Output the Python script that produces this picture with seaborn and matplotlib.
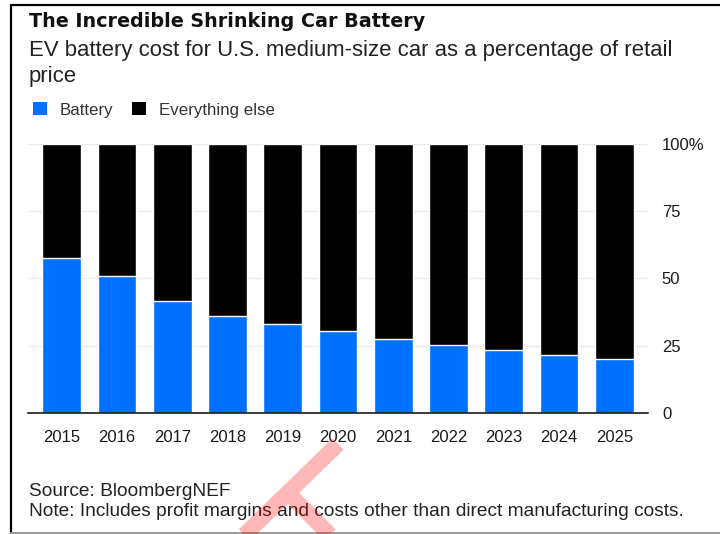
import matplotlib
matplotlib.use("Agg")
import matplotlib.pyplot as plt
import matplotlib.patches as mpatches
from matplotlib.lines import Line2D
import numpy as np
import pandas as pd
import seaborn as sns

# Battery share of retail price (%), U.S. medium-size EV
years = ["2015", "2016", "2017", "2018", "2019", "2020",
         "2021", "2022", "2023", "2024", "2025"]
battery = [57.4, 50.8, 41.6, 36.1, 32.9, 30.4, 27.3, 25.3, 23.3, 21.6, 20.2]
total = [100] * len(years)
ytick_values = [0, 25, 50, 75, 100]
ytick_labels = ["0", "25", "50", "75", "100%"]

BLUE = "#0070FF"
BLACK = "#000000"

sns.set_theme(style="white")
plt.rcParams["font.family"] = ["Liberation Sans", "DejaVu Sans"]

W, H = 720, 534
fig = plt.figure(figsize=(W / 100, H / 100), dpi=100)
fig.patch.set_facecolor("white")

def fx(px):
    return px / W

def fy(py):
    return 1 - py / H

# plot area in pixel space: x 28..648, y 143.5..413
ax = fig.add_axes([fx(28), fy(413), fx(648) - fx(28), (413 - 143.5) / H])

df = pd.DataFrame({"year": years, "battery": battery, "total": total})

# light horizontal grid behind bars
for v in ytick_values[1:]:
    ax.axhline(v, color="#ebebeb", lw=1.0, zorder=0)

sns.barplot(data=df, x="year", y="total", color=BLACK, width=0.7,
            saturation=1, ax=ax, zorder=2)
sns.barplot(data=df, x="year", y="battery", color=BLUE, width=0.7,
            saturation=1, ax=ax, zorder=3)

ax.set_xlim(-0.61, len(years) - 1 + 0.61)
ax.set_ylim(0, 100)
ax.set_xlabel("")
ax.set_ylabel("")

for s in ["top", "left", "right"]:
    ax.spines[s].set_visible(False)
ax.spines["bottom"].set_color("#1a1a1a")
ax.spines["bottom"].set_linewidth(1.2)
ax.spines["bottom"].set_zorder(5)

ax.yaxis.tick_right()
ax.set_yticks(ytick_values)
ax.set_yticklabels(ytick_labels)
ax.tick_params(axis="y", length=0, pad=10, labelsize=12, labelcolor="#1a1a1a")
ax.tick_params(axis="x", length=4.5, width=1, color="#333333", pad=8,
               labelsize=12, labelcolor="#1a1a1a", direction="out")
for lab in ax.get_yticklabels():
    lab.set_horizontalalignment("left")

# header text
fig.text(fx(29), fy(26.7), "The Incredible Shrinking Car Battery",
         fontsize=13.8, fontweight="bold", color="#111111",
         family=["DejaVu Sans"], va="baseline", ha="left")
fig.text(fx(29), fy(56), "EV battery cost for U.S. medium-size car as a percentage of retail",
         fontsize=15.9, color="#222222", va="baseline", ha="left")
fig.text(fx(29), fy(82), "price", fontsize=15.9, color="#222222",
         va="baseline", ha="left")

# legend
handles = [mpatches.Patch(facecolor=BLUE, edgecolor="none", label="Battery"),
           mpatches.Patch(facecolor=BLACK, edgecolor="none", label="Everything else")]
leg = fig.legend(handles=handles, loc="center left",
                 bbox_to_anchor=(fx(33), fy(110)), ncol=2, frameon=False,
                 fontsize=12.2, handlelength=0.8, handleheight=0.8,
                 handletextpad=0.75, columnspacing=1.15, borderpad=0,
                 borderaxespad=0)
for t in leg.get_texts():
    t.set_color("#333333")

# footer
fig.text(fx(29), fy(496), "Source: BloombergNEF", fontsize=13.8,
         color="#222222", va="baseline", ha="left")
fig.text(fx(29), fy(516),
         "Note: Includes profit margins and costs other than direct manufacturing costs.",
         fontsize=13.8, color="#222222", va="baseline", ha="left")

# frame lines
fig.add_artist(Line2D([fx(11), 1.0], [fy(5), fy(5)], transform=fig.transFigure,
                      color="#000000", lw=1.6))
fig.add_artist(Line2D([fx(11), fx(11)], [fy(5), 0.0], transform=fig.transFigure,
                      color="#000000", lw=1.6))
fig.add_artist(Line2D([fx(11), 1.0], [fy(532.5), fy(532.5)], transform=fig.transFigure,
                      color="#9a9a9a", lw=1.4))

# translucent red stamp strokes
stamp = Line2D([fx(338), fx(232), np.nan, fx(289), fx(342)],
               [fy(444), fy(547), np.nan, fy(494), fy(547)],
               transform=fig.transFigure, color="red", alpha=0.28,
               lw=11.5, solid_capstyle="butt", zorder=10)
fig.add_artist(stamp)

fig.savefig("out.png", dpi=100, facecolor="white")
